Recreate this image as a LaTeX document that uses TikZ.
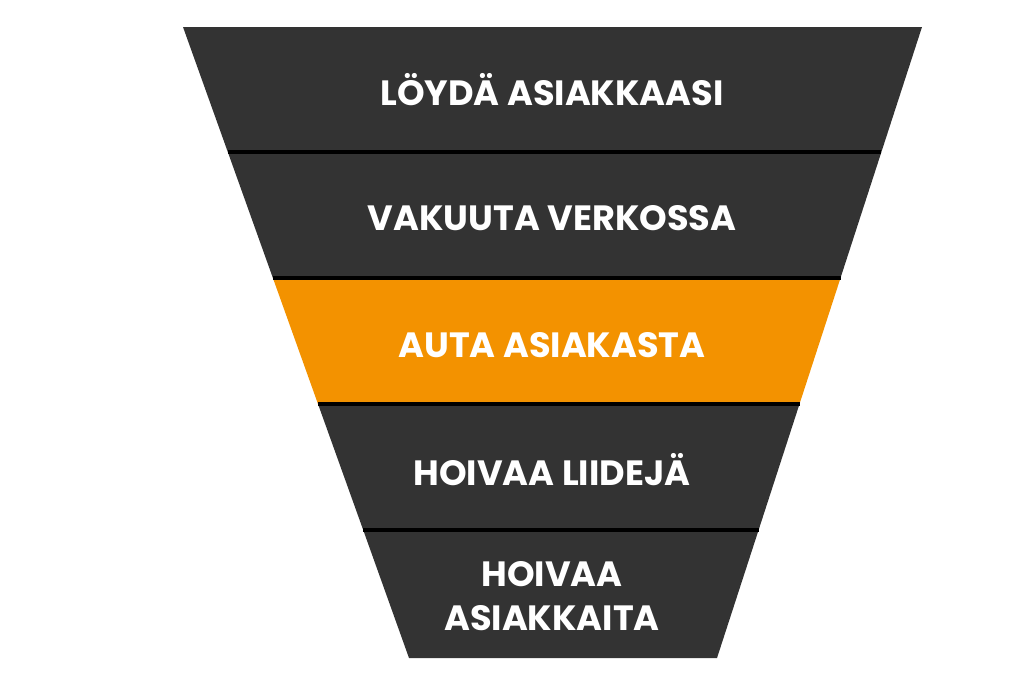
\documentclass[tikz,border=0pt]{standalone}
\usepackage{fontspec}
\setmainfont{Poppins}
\usetikzlibrary{positioning}
\definecolor{funnelgray}{HTML}{333333}
\definecolor{funnelorange}{HTML}{F39200}

\begin{document}
\begin{tikzpicture}[
    x=0.02cm, y=-0.02cm,
    label/.style={text=white, font=\fontsize{20}{25}\selectfont\bfseries, align=center},
    sep/.style={draw=black, line width=1.8pt}
]
\useasboundingbox (0,0) rectangle (1024,680);

% Bands
\fill[funnelgray] (183,27) -- (922,27) -- (881.4,152) -- (227.8,152) -- cycle;
\fill[funnelgray] (227.8,152) -- (881.4,152) -- (840.5,278) -- (272.9,278) -- cycle;
\fill[funnelorange] (272.9,278) -- (840.5,278) -- (799.5,404) -- (318.0,404) -- cycle;
\fill[funnelgray] (318.0,404) -- (799.5,404) -- (758.6,530) -- (363.2,530) -- cycle;
\fill[funnelgray] (363.2,530) -- (758.6,530) -- (717,658) -- (409,658) -- cycle;

% Separators
\foreach \a/\b/\y in {227.8/881.4/152, 272.9/840.5/278, 318.0/799.5/404, 363.2/758.6/530}
    \draw[sep] (\a,\y) -- (\b,\y);

% Labels
\node[label] (find) at (552,90) {LÖYDÄ ASIAKKAASI};
\node[label] (convince) at (552,218) {VAKUUTA VERKOSSA};
\node[label] (help) at (552,345) {AUTA ASIAKASTA};
\node[label] (leads) at (552,470) {HOIVAA LIIDEJÄ};
\node[label] (customers) at (552,596) {HOIVAA\\ASIAKKAITA};
\end{tikzpicture}
\end{document}
